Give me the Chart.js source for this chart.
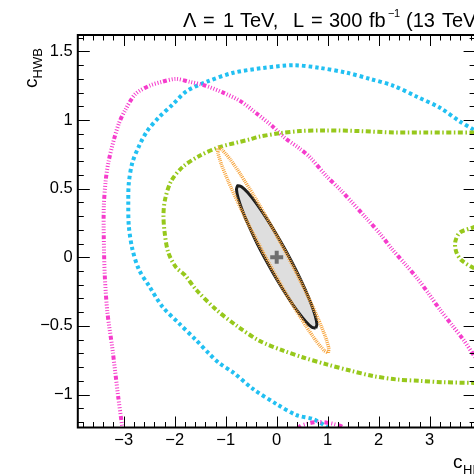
<!DOCTYPE html>
<html>
<head>
<meta charset="utf-8">
<script src="https://cdn.jsdelivr.net/npm/chart.js@4"></script>
<style>
  html, body { margin: 0; padding: 0; overflow: hidden; background: #fff; }
  canvas { display: block; }
</style>
</head>
<body>
<canvas id="c" width="480" height="476"></canvas>
<script>
// Axis ranges and tick values
const xRange = [-3.9, 3.9];
const yRange = [-1.24, 1.62];
const xTicks = [-3, -2, -1, 0, 1, 2, 3];
const yTicks = [-1, -0.5, 0, 0.5, 1, 1.5];

// Contour lines in the (cHD, cHWB) plane
const magentaOuter = [
  [-2.99, -1.33], [-3.03, -1.23], [-3.11, -1.01], [-3.22, -0.67], [-3.32, -0.40],
  [-3.37, -0.14], [-3.39, 0.13], [-3.39, 0.37], [-3.35, 0.57], [-3.29, 0.71],
  [-3.19, 0.86], [-3.09, 0.98], [-2.96, 1.08], [-2.77, 1.19], [-2.50, 1.25],
  [-2.24, 1.28], [-1.98, 1.30], [-1.72, 1.28], [-1.39, 1.25], [-1.05, 1.20],
  [-0.72, 1.14], [-0.40, 1.05], [-0.10, 0.96], [0.16, 0.87], [0.46, 0.79],
  [0.65, 0.73], [0.98, 0.59], [1.28, 0.48], [1.77, 0.28], [2.03, 0.17],
  [2.26, 0.06], [2.52, -0.05], [2.75, -0.15], [2.97, -0.26], [3.20, -0.38],
  [3.43, -0.49], [3.66, -0.60], [3.86, -0.71], [4.08, -0.82]
];
const magentaLow = [
  [0.40, -1.33], [0.45, -1.235], [0.63, -1.21], [0.82, -1.20], [0.99, -1.205],
  [1.18, -1.22], [1.30, -1.24], [1.36, -1.33]
];
const cyanContour = [
  [4.18, 0.85], [3.86, 0.93], [3.59, 0.99], [3.20, 1.09], [2.75, 1.17],
  [2.29, 1.25], [1.83, 1.30], [1.37, 1.345], [0.85, 1.38], [0.33, 1.40],
  [-0.26, 1.38], [-0.85, 1.345], [-1.37, 1.28], [-1.77, 1.21], [-2.05, 1.11],
  [-2.31, 1.02], [-2.54, 0.92], [-2.70, 0.81], [-2.83, 0.69], [-2.90, 0.54],
  [-2.91, 0.40], [-2.90, 0.23], [-2.83, 0.06], [-2.70, -0.09], [-2.50, -0.21],
  [-2.24, -0.36], [-1.92, -0.48], [-1.59, -0.60], [-1.33, -0.70], [-1.13, -0.77],
  [-0.85, -0.84], [-0.46, -0.96], [0.0, -1.07], [0.39, -1.15], [0.72, -1.18],
  [0.98, -1.235], [1.24, -1.33]
];
const greenContour = [
  [4.10, 0.91], [3.86, 0.91], [2.94, 0.91], [2.29, 0.91], [1.63, 0.92],
  [0.98, 0.925], [0.46, 0.92], [0.07, 0.905], [-0.33, 0.88], [-0.52, 0.86],
  [-1.15, 0.80], [-1.51, 0.74], [-1.84, 0.66], [-2.07, 0.555], [-2.19, 0.42],
  [-2.22, 0.31], [-2.20, 0.19], [-2.13, 0.04], [-1.98, -0.07], [-1.80, -0.13],
  [-1.57, -0.24], [-1.19, -0.38], [-0.78, -0.50], [-0.33, -0.61], [0.13, -0.68],
  [0.52, -0.73], [0.98, -0.78], [1.44, -0.825], [1.89, -0.865], [2.35, -0.89],
  [2.81, -0.90], [3.27, -0.91], [3.86, -0.915], [4.10, -0.915]
];
const greenRight = [
  [4.10, 0.26], [3.87, 0.22], [3.59, 0.18], [3.50, 0.11], [3.52, 0.04],
  [3.62, -0.02], [3.87, -0.08], [4.10, -0.12]
];
const orangeContour = [
  [1.012, -0.696], [1.020, -0.661], [0.954, -0.578], [0.818, -0.452], [0.622, -0.292],
  [0.379, -0.109], [0.106, 0.085], [-0.179, 0.278], [-0.456, 0.454], [-0.707, 0.603],
  [-0.914, 0.715], [-1.064, 0.781], [-1.145, 0.798], [-1.153, 0.763], [-1.087, 0.680],
  [-0.951, 0.555], [-0.755, 0.395], [-0.513, 0.211], [-0.239, 0.017], [0.046, -0.176],
  [0.323, -0.352], [0.574, -0.501], [0.781, -0.613], [0.930, -0.679], [1.012, -0.696]
];
const blackContour = [
  [0.765, -0.517], [0.788, -0.490], [0.757, -0.429], [0.675, -0.338], [0.546, -0.224],
  [0.381, -0.095], [0.189, 0.041], [-0.015, 0.174], [-0.219, 0.295], [-0.407, 0.397],
  [-0.568, 0.472], [-0.690, 0.514], [-0.765, 0.522], [-0.788, 0.494], [-0.757, 0.433],
  [-0.675, 0.342], [-0.546, 0.229], [-0.381, 0.099], [-0.189, -0.036], [0.015, -0.169],
  [0.219, -0.291], [0.407, -0.392], [0.568, -0.467], [0.690, -0.510], [0.765, -0.517]
];
const bestFit = [[0, 0]];

const pts = arr => arr.map(([x, y]) => ({ x, y }));
const FONT = '"Liberation Sans", Arial, Helvetica, sans-serif';
const minus = v => String(v).replace('-', '\u2212');
const MAGENTA_DASH = [4, 2, 1, 1.8, 1, 1.8, 1, 1.8, 1, 1.8, 1, 2];

function line(data, color, width, dash, order, extra) {
  return Object.assign({
    data: pts(data), showLine: true, borderColor: color, borderWidth: width,
    borderDash: dash, borderCapStyle: 'butt', pointRadius: 0, tension: 0.3,
    fill: false, clip: 0, order
  }, extra || {});
}

// Frame, inward ticks and axis/plot titles
const framePlugin = {
  id: 'frame',
  afterDatasetsDraw(chart) {
    const { ctx, chartArea: a, scales: { x, y } } = chart;
    ctx.save();
    ctx.strokeStyle = '#000';
    ctx.lineWidth = 1;
    ctx.beginPath();
    for (let i = Math.ceil(xRange[0] / 0.2 - 1e-9); i * 0.2 <= xRange[1] + 1e-9; i++) {
      const v = i * 0.2;
      const px = Math.round(x.getPixelForValue(v)) + 0.5;
      const len = Math.abs(v - Math.round(v)) < 1e-6 ? 11 : 5.5;
      ctx.moveTo(px, a.bottom); ctx.lineTo(px, a.bottom - len);
      ctx.moveTo(px, a.top); ctx.lineTo(px, a.top + len);
    }
    for (let i = Math.ceil(yRange[0] / 0.1 - 1e-9); i * 0.1 <= yRange[1] + 1e-9; i++) {
      const v = i * 0.1;
      const py = Math.round(y.getPixelForValue(v)) + 0.5;
      const len = Math.abs(v * 2 - Math.round(v * 2)) < 1e-6 ? 12 : 6;
      ctx.moveTo(a.left, py); ctx.lineTo(a.left + len, py);
      ctx.moveTo(a.right, py); ctx.lineTo(a.right - len, py);
    }
    ctx.stroke();
    ctx.lineWidth = 2;
    ctx.strokeRect(a.left, a.top, a.right - a.left, a.bottom - a.top);

    ctx.fillStyle = '#000';
    ctx.textBaseline = 'alphabetic';
    ctx.textAlign = 'left';
    // plot title
    ctx.font = '20px ' + FONT;
    [['\u039B', 183], ['=', 203], ['1', 223], ['TeV,', 240],
     ['L', 293], ['=', 311], ['300', 329], ['fb', 369],
     ['(13', 406], ['TeV)', 442]].forEach(([t, px]) => ctx.fillText(t, px, 27));
    ctx.font = '11px ' + FONT;
    ctx.fillText('\u2212', 388, 17);
    ctx.fillText('1', 394, 17);
    // y axis title
    ctx.save();
    ctx.translate(37, 88);
    ctx.rotate(-Math.PI / 2);
    ctx.font = '19px ' + FONT;
    ctx.fillText('c', 0, 0);
    const cw = ctx.measureText('c').width;
    ctx.font = '13px ' + FONT;
    ctx.fillText('HWB', cw, 5);
    ctx.restore();
    // x axis title
    ctx.font = '19px ' + FONT;
    ctx.fillText('c', 453, 468);
    ctx.font = '13px ' + FONT;
    ctx.fillText('HD', 463, 474);
    ctx.restore();
  }
};

new Chart(document.getElementById('c'), {
  type: 'scatter',
  data: {
    datasets: [
      line(bestFit, '#707070', 0, [], 0, {
        showLine: false, pointStyle: 'cross', pointRadius: 6.5,
        pointBorderWidth: 4, pointBorderColor: '#6f6f6f'
      }),
      line(orangeContour, '#f7a43c', 3.5, [1, 1], 1, { tension: 0.2 }),
      line(blackContour, '#1e1e1e', 3, [], 2, {
        tension: 0.2, fill: 'shape', backgroundColor: '#dedede'
      }),
      line(greenContour, '#97c81c', 4, [5, 2.5, 1.5, 2.5], 3),
      line(greenRight, '#97c81c', 4, [5, 2.5, 1.5, 2.5], 3),
      line(magentaOuter, '#f53ccc', 4, MAGENTA_DASH, 4),
      line(magentaLow, '#f53ccc', 4, [4, 3, 1, 2, 1, 3], 4, { borderDashOffset: 3 }),
      line(cyanContour, '#22c0f2', 4, [3.5, 3], 5)
    ]
  },
  options: {
    responsive: false,
    animation: false,
    devicePixelRatio: 1,
    layout: { autoPadding: false, padding: { top: 35, right: 4.4, left: 0, bottom: 0 } },
    plugins: { legend: { display: false }, tooltip: { enabled: false } },
    scales: {
      x: {
        type: 'linear', min: xRange[0], max: xRange[1],
        grid: { display: false, drawTicks: false }, border: { display: false },
        afterBuildTicks: s => { s.ticks = xTicks.map(v => ({ value: v })); },
        afterFit: s => { s.height = 48.5; s.paddingLeft = 0; s.paddingRight = 0; },
        ticks: {
          autoSkip: false, maxRotation: 0, padding: 3, color: '#000',
          font: { family: FONT, size: 16.5 }, callback: v => minus(v)
        }
      },
      y: {
        type: 'linear', min: yRange[0], max: yRange[1],
        grid: { display: false, drawTicks: false }, border: { display: false },
        afterBuildTicks: s => { s.ticks = yTicks.map(v => ({ value: v })); },
        afterFit: s => { s.width = 77.8; s.paddingTop = 0; s.paddingBottom = 0; },
        ticks: {
          autoSkip: false, padding: 5, color: '#000',
          font: { family: FONT, size: 16.5 }, callback: v => minus(v)
        }
      }
    }
  },
  plugins: [framePlugin]
});
</script>
</body>
</html>
